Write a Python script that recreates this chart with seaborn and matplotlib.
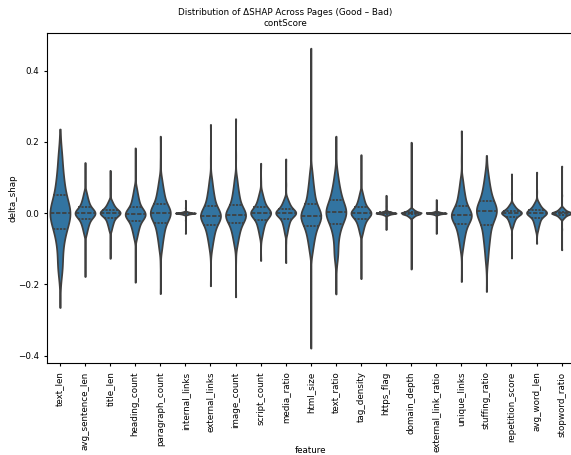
import numpy as np
import pandas as pd
import matplotlib
matplotlib.use("Agg")
import matplotlib.pyplot as plt
import seaborn as sns

# ΔSHAP (good - bad) per feature.
# first two and last two values of each list are the sparse outliers (thin tails)
features = ["text_len", "avg_sentence_len", "title_len", "heading_count", "paragraph_count",
            "internal_links", "external_links", "image_count", "script_count", "media_ratio",
            "html_size", "text_ratio", "tag_density", "https_flag", "domain_depth",
            "external_link_ratio", "unique_links", "stuffing_ratio", "repetition_score",
            "avg_word_len", "stopword_ratio"]

text_len = [-0.265, -0.2, -0.165, -0.148, -0.125, -0.1, -0.082, -0.068, -0.057, -0.046, -0.038,
            -0.030, -0.023, -0.017, -0.012, -0.007, -0.004, 0.0, 0.004, 0.009, 0.014, 0.02,
            0.026, 0.033, 0.041, 0.052, 0.063, 0.075, 0.088, 0.102, 0.12, 0.145, 0.17,
            0.2, 0.236]
avg_sentence_len = [-0.178, -0.1, -0.058, -0.047, -0.040, -0.033, -0.029, -0.024, -0.020, -0.016,
                    -0.013, -0.010, -0.008, -0.006, -0.0045, -0.003, -0.0015, 0.0, 0.0015, 0.003,
                    0.0045, 0.006, 0.008, 0.010, 0.013, 0.016, 0.020, 0.024, 0.029, 0.033, 0.040,
                    0.047, 0.058, 0.09, 0.142]
title_len = [-0.127, -0.075, -0.048, -0.039, -0.033, -0.028, -0.024, -0.020, -0.017, -0.013,
             -0.011, -0.009, -0.007, -0.005, -0.004, -0.0024, -0.0012, 0.0, 0.0009, 0.0018, 0.003,
             0.004, 0.005, 0.006, 0.008, 0.010, 0.012, 0.015, 0.018, 0.020, 0.024, 0.029, 0.035,
             0.07, 0.12]
heading_count = [-0.194, -0.11, -0.070, -0.058, -0.049, -0.042, -0.037, -0.031, -0.027, -0.021,
                 -0.018, -0.015, -0.013, -0.010, -0.008, -0.006, -0.005, -0.003, -0.001, 0.0007,
                 0.003, 0.005, 0.008, 0.010, 0.014, 0.017, 0.023, 0.028, 0.034, 0.040, 0.048,
                 0.057, 0.071, 0.11, 0.183]
paragraph_count = [-0.226, -0.14, -0.102, -0.083, -0.070, -0.059, -0.051, -0.043, -0.036, -0.028,
                   -0.023, -0.019, -0.015, -0.011, -0.008, -0.005, -0.0026, 0.0, 0.0024, 0.0048,
                   0.0075, 0.011, 0.014, 0.017, 0.022, 0.026, 0.034, 0.041, 0.048, 0.056, 0.066,
                   0.078, 0.096, 0.14, 0.216]
internal_links = [-0.057, -0.02, -0.0048, -0.0039, -0.0033, -0.0028, -0.0024, -0.002, -0.0017,
                  -0.0013, -0.0011, -0.0009, -0.0007, -0.0005, -0.0004, -0.0002, -0.0001, 0.0,
                  0.0001, 0.0002, 0.0004, 0.0005, 0.0007, 0.0009, 0.0011, 0.0013, 0.0017, 0.002,
                  0.0024, 0.0028, 0.0033, 0.0039, 0.0048, 0.015, 0.036]
external_links = [-0.204, -0.12, -0.097, -0.080, -0.069, -0.059, -0.052, -0.045, -0.038, -0.032,
                  -0.027, -0.023, -0.020, -0.017, -0.014, -0.011, -0.009, -0.007, -0.004, -0.002,
                  0.001, 0.004, 0.008, 0.012, 0.016, 0.021, 0.029, 0.036, 0.044, 0.052, 0.063,
                  0.076, 0.095, 0.15, 0.249]
image_count = [-0.235, -0.13, -0.091, -0.075, -0.064, -0.055, -0.048, -0.041, -0.035, -0.029,
               -0.024, -0.021, -0.017, -0.014, -0.012, -0.009, -0.007, -0.005, -0.002, 0.0, 0.003,
               0.006, 0.010, 0.014, 0.018, 0.023, 0.031, 0.038, 0.046, 0.054, 0.065, 0.078, 0.097,
               0.16, 0.265]
script_count = [-0.133, -0.08, -0.064, -0.052, -0.044, -0.037, -0.032, -0.027, -0.022, -0.018,
                -0.014, -0.012, -0.009, -0.007, -0.005, -0.003, -0.0016, 0.0, 0.0015, 0.003,
                0.0045, 0.006, 0.008, 0.010, 0.013, 0.016, 0.020, 0.024, 0.029, 0.033, 0.040,
                0.047, 0.058, 0.085, 0.14]
media_ratio = [-0.139, -0.08, -0.058, -0.047, -0.040, -0.033, -0.029, -0.024, -0.020, -0.016,
               -0.013, -0.010, -0.008, -0.006, -0.0045, -0.003, -0.0015, 0.0, 0.001, 0.0021,
               0.0033, 0.0045, 0.006, 0.0075, 0.009, 0.011, 0.015, 0.018, 0.021, 0.024, 0.029,
               0.034, 0.042, 0.08, 0.152]
html_size = [-0.379, -0.2, -0.109, -0.090, -0.077, -0.066, -0.058, -0.050, -0.043, -0.035,
             -0.030, -0.026, -0.022, -0.018, -0.015, -0.012, -0.010, -0.007, -0.004, -0.001,
             0.003, 0.006, 0.010, 0.015, 0.020, 0.026, 0.036, 0.044, 0.054, 0.063, 0.077, 0.092,
             0.115, 0.2, 0.463]
text_ratio = [-0.227, -0.16, -0.128, -0.11, -0.09, -0.071, -0.058, -0.047, -0.038, -0.031,
              -0.025, -0.019, -0.014, -0.010, -0.006, -0.003, -0.001, 0.002, 0.005, 0.008, 0.012,
              0.016, 0.020, 0.025, 0.030, 0.036, 0.043, 0.05, 0.058, 0.067, 0.078, 0.092, 0.112,
              0.15, 0.216]
tag_density = [-0.184, -0.1, -0.058, -0.047, -0.040, -0.033, -0.029, -0.024, -0.020, -0.016,
               -0.013, -0.010, -0.008, -0.006, -0.0045, -0.003, -0.0015, 0.0, 0.0015, 0.003,
               0.0045, 0.006, 0.008, 0.010, 0.013, 0.016, 0.020, 0.024, 0.029, 0.033, 0.040,
               0.047, 0.058, 0.1, 0.164]
https_flag = [-0.046, -0.018, -0.0064, -0.0052, -0.0044, -0.0037, -0.0032, -0.0027, -0.0022,
              -0.0018, -0.0014, -0.0012, -0.0009, -0.0007, -0.0005, -0.0003, -0.0002, 0.0,
              0.0002, 0.0003, 0.0005, 0.0007, 0.0009, 0.0012, 0.0014, 0.0018, 0.0022, 0.0027,
              0.0032, 0.0037, 0.0044, 0.0052, 0.0064, 0.02, 0.05]
domain_depth = [-0.157, -0.05, -0.0128, -0.0104, -0.0088, -0.0074, -0.0064, -0.0054, -0.0045,
                -0.0035, -0.0029, -0.0023, -0.0018, -0.0014, -0.001, -0.0006, -0.0003, 0.0,
                0.0003, 0.0006, 0.001, 0.0014, 0.0018, 0.0023, 0.0029, 0.0035, 0.0045, 0.0054,
                0.0064, 0.0074, 0.0088, 0.0104, 0.0128, 0.06, 0.199]
external_link_ratio = [-0.057, -0.02, -0.0048, -0.0039, -0.0033, -0.0028, -0.0024, -0.002,
                       -0.0017, -0.0013, -0.0011, -0.0009, -0.0007, -0.0005, -0.0004, -0.0002,
                       -0.0001, 0.0, 0.0001, 0.0002, 0.0004, 0.0005, 0.0007, 0.0009, 0.0011,
                       0.0013, 0.0017, 0.002, 0.0024, 0.0028, 0.0033, 0.0039, 0.0048, 0.012,
                       0.038]
unique_links = [-0.192, -0.11, -0.096, -0.079, -0.068, -0.058, -0.051, -0.044, -0.037, -0.031,
                -0.026, -0.022, -0.019, -0.016, -0.013, -0.010, -0.008, -0.006, -0.004, -0.001,
                0.002, 0.005, 0.008, 0.012, 0.016, 0.021, 0.029, 0.036, 0.044, 0.051, 0.062,
                0.075, 0.093, 0.15, 0.231]
stuffing_ratio = [-0.22, -0.16, -0.129, -0.104, -0.087, -0.073, -0.062, -0.052, -0.042, -0.032,
                  -0.025, -0.019, -0.014, -0.010, -0.006, -0.002, 0.002, 0.005, 0.008, 0.010,
                  0.013, 0.017, 0.020, 0.024, 0.029, 0.034, 0.042, 0.050, 0.058, 0.066, 0.078,
                  0.091, 0.111, 0.13, 0.162]
repetition_score = [-0.126, -0.06, -0.038, -0.031, -0.026, -0.022, -0.019, -0.016, -0.013,
                    -0.011, -0.009, -0.007, -0.0055, -0.0042, -0.003, -0.0019, -0.001, 0.0,
                    0.0006, 0.0013, 0.002, 0.0028, 0.0037, 0.0046, 0.0058, 0.007, 0.009, 0.011,
                    0.013, 0.015, 0.018, 0.021, 0.026, 0.055, 0.11]
avg_word_len = [-0.085, -0.06, -0.048, -0.039, -0.033, -0.028, -0.024, -0.020, -0.017, -0.013,
                -0.011, -0.009, -0.007, -0.005, -0.004, -0.0024, -0.0012, 0.0, 0.0008, 0.0016,
                0.0025, 0.0035, 0.0046, 0.0058, 0.0072, 0.0088, 0.011, 0.0135, 0.016, 0.0185,
                0.022, 0.026, 0.032, 0.06, 0.115]
stopword_ratio = [-0.103, -0.045, -0.016, -0.013, -0.011, -0.0093, -0.008, -0.0068, -0.0056,
                  -0.0044, -0.0036, -0.0029, -0.0023, -0.0018, -0.0013, -0.0008, -0.0004, 0.0,
                  0.0004, 0.0008, 0.0013, 0.0018, 0.0023, 0.0029, 0.0036, 0.0044, 0.0056,
                  0.0068, 0.008, 0.0093, 0.011, 0.013, 0.016, 0.05, 0.132]

values = [text_len, avg_sentence_len, title_len, heading_count, paragraph_count,
          internal_links, external_links, image_count, script_count, media_ratio,
          html_size, text_ratio, tag_density, https_flag, domain_depth,
          external_link_ratio, unique_links, stuffing_ratio, repetition_score,
          avg_word_len, stopword_ratio]

CORE_PAGES = 5  # each core value stands for this many pages, outliers for one

rows = []
for f, vals in zip(features, values):
    for v in vals[:2] + vals[-2:]:
        rows.append((f, v))
    for v in vals[2:-2]:
        rows += [(f, v)] * CORE_PAGES
df = pd.DataFrame(rows, columns=["feature", "delta_shap"])


def iqr_bw(kde):
    # bandwidth tied to the IQR, so the outliers don't widen the body
    x = kde.dataset.ravel()
    iqr = np.percentile(x, 75) - np.percentile(x, 25)
    return 0.3 * iqr / x.std(ddof=1)


fs = 6.3
fig, ax = plt.subplots(figsize=(5.71, 4.55), dpi=100)
sns.violinplot(data=df, x="feature", y="delta_shap", order=features, inner="quart",
               cut=0, density_norm="width", bw_method=iqr_bw, ax=ax)
ax.tick_params(axis="x", rotation=90, labelsize=fs, length=2.5)
ax.tick_params(axis="y", labelsize=fs, length=2.5)
ax.set_xlabel("feature", fontsize=fs)
ax.set_ylabel("delta_shap", fontsize=fs)
ax.xaxis.set_label_coords(0.5, -0.252)
ax.yaxis.set_label_coords(-0.056, 0.5)
fig.suptitle("Distribution of ΔSHAP Across Pages (Good – Bad)\ncontScore", fontsize=fs, y=0.982)
fig.subplots_adjust(left=0.083, right=1.0056, bottom=0.202, top=0.927)
fig.savefig("out.png", dpi=100)
